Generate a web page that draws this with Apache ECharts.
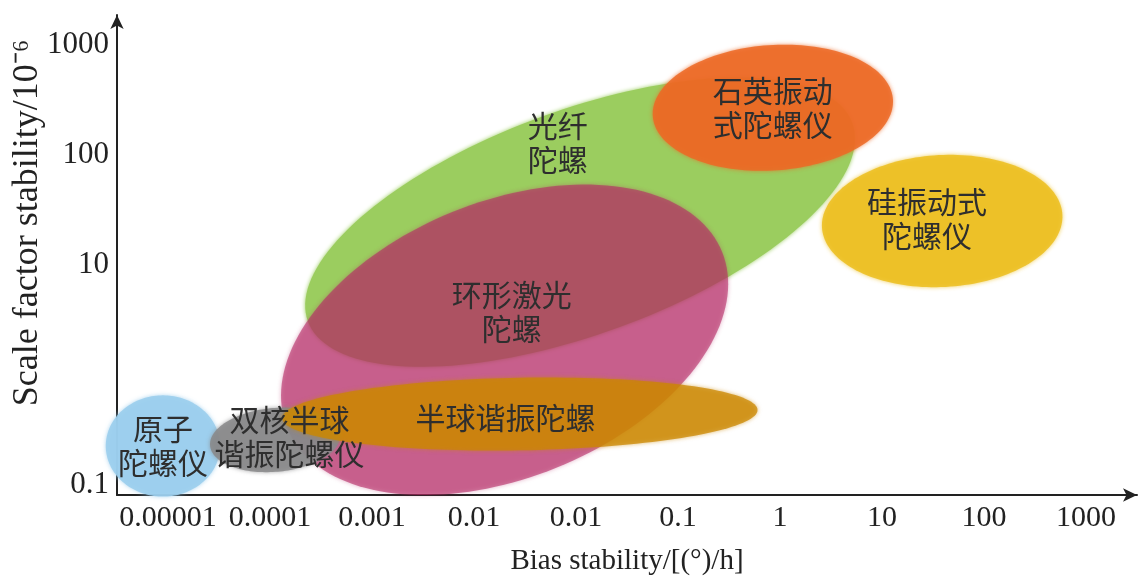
<!DOCTYPE html>
<html>
<head>
<meta charset="utf-8">
<script src="https://cdn.jsdelivr.net/npm/echarts@6/dist/echarts.min.js"></script>
<style>
html,body{margin:0;padding:0;background:#fff;}
#chart{width:1140px;height:577px;}
</style>
</head>
<body>
<div id="chart"></div>
<script>
// ---- data ----
const xCategories = ['0.00001', '0.0001', '0.001', '0.01', '0.01', '0.1', '1', '10', '100', '1000'];
const yTickLabels = ['0.1', '', '10', '100', '1000']; // labels for 10^-1 .. 10^3
const xAxisTitle = 'Bias stability/[(°)/h]';
const yAxisTitle = 'Scale factor stability/10⁻⁶';

// gyroscope regions, in drawing order
const gyroNames   = ['光纤\n陀螺', '环形激光\n陀螺', '原子\n陀螺仪', '双核半球\n谐振陀螺仪', '半球谐振陀螺', '石英振动\n式陀螺仪', '硅振动式\n陀螺仪'];
const centerBias  = [4.54, 3.80, 0.45, 1.55, 3.95, 6.43, 8.09];   // position along bias axis (category units)
const centerScale = [1.39, 0.32, -0.645, -0.59, -0.355, 2.43, 1.40]; // log10 of scale factor stability
const spanBias    = [2.84, 2.30, 0.56, 0.64, 2.33, 1.18, 1.18];   // semi-axis along bias (category units)
const spanScale   = [1.02, 1.255, 0.46, 0.29, 0.33, 0.57, 0.60];  // semi-axis along scale (decades)
const tiltDeg     = [20, 22, 0, 5, 1, 4, 3];
const labelBias   = [4.32, 3.87, 0.45, 1.69, 3.81, 6.43, 7.94];
const labelScale  = [2.11, 0.58, -0.64, -0.56, -0.39, 2.43, 1.42];
const fillColors  = ['rgba(155,205,95,1)', 'rgba(180,40,100,0.6)', 'rgba(155,206,237,0.9)', 'rgba(136,136,138,0.85)',
                     'rgba(203,135,0,0.75)', 'rgba(236,104,36,0.85)', 'rgba(236,190,30,0.85)'];

// ---- chart ----
const yMin = 0.0811, yMax = 1875;
const chart = echarts.init(document.getElementById('chart'), null, {renderer: 'canvas'});

const regionData = gyroNames.map((n, i) => [centerBias[i], Math.pow(10, centerScale[i]), spanBias[i], spanScale[i], tiltDeg[i], i]);
const labelData = gyroNames.map((n, i) => [labelBias[i], Math.pow(10, labelScale[i]), i]);

const axisFont = 'Liberation Serif';

chart.setOption({
  backgroundColor: '#ffffff',
  animation: false,
  grid: {left: 117, right: 3, top: 15, bottom: 82, containLabel: false, outerBoundsMode: 'none'},
  xAxis: [
    {
      type: 'category', data: xCategories, boundaryGap: true,
      axisLine: {show: true, symbol: ['none', 'arrow'], symbolSize: [10, 14], lineStyle: {color: '#222', width: 2}},
      axisTick: {show: false}, splitLine: {show: false},
      axisLabel: {color: '#222', fontFamily: axisFont, fontSize: 30, margin: 8, interval: 0},
      name: xAxisTitle, nameLocation: 'middle', nameGap: 52,
      nameTextStyle: {color: '#222', fontFamily: axisFont, fontSize: 29}
    },
    {type: 'value', min: 0, max: 10, show: false}
  ],
  yAxis: {
    type: 'log', logBase: 10, min: yMin, max: yMax,
    axisLine: {show: true, symbol: ['none', 'arrow'], symbolSize: [10, 14], lineStyle: {color: '#222', width: 2}},
    axisTick: {show: false}, splitLine: {show: false}, minorTick: {show: false},
    axisLabel: {
      color: '#222', fontFamily: axisFont, fontSize: 31, margin: 8,
      showMinLabel: false, showMaxLabel: false,
      formatter: function (v) {
        const idx = Math.round(Math.log10(v)) + 1;
        if (Math.abs(Math.log10(v) - Math.round(Math.log10(v))) > 1e-6) return '';
        return yTickLabels[idx] !== undefined ? yTickLabels[idx] : '';
      }
    },
    name: yAxisTitle, nameLocation: 'middle', nameGap: 71, nameRotate: 90, nameMoveOverlap: false,
    nameTextStyle: {color: '#222', fontFamily: axisFont, fontSize: 36, padding: [0, 0, 0, 64]}
  },
  series: [
    {
      type: 'custom', xAxisIndex: 1, yAxisIndex: 0, z: 5,
      data: regionData,
      encode: {x: 0, y: 1},
      renderItem: function (params, api) {
        const cb = api.value(0), cs = api.value(1), rb = api.value(2), rs = api.value(3);
        const th = api.value(4) * Math.PI / 180;
        const idx = api.value(5);
        const c = api.coord([cb, cs]);
        const a = api.coord([cb + rb, cs])[0] - c[0];
        const b = c[1] - api.coord([cb, cs * Math.pow(10, rs)])[1];
        const pts = [];
        const N = 160;
        for (let k = 0; k < N; k++) {
          const t = 2 * Math.PI * k / N;
          pts.push([
            c[0] + a * Math.cos(t) * Math.cos(th) + b * Math.sin(t) * Math.sin(th),
            c[1] - a * Math.cos(t) * Math.sin(th) + b * Math.sin(t) * Math.cos(th)
          ]);
        }
        return {
          type: 'polygon', shape: {points: pts},
          style: {fill: fillColors[idx], shadowBlur: 4, shadowColor: fillColors[idx]}
        };
      }
    },
    {
      type: 'custom', xAxisIndex: 1, yAxisIndex: 0, z: 10,
      data: labelData,
      encode: {x: 0, y: 1},
      renderItem: function (params, api) {
        const p = api.coord([api.value(0), api.value(1)]);
        const idx = api.value(2);
        return {
          type: 'text', x: p[0], y: p[1],
          style: {
            text: gyroNames[idx], fill: '#2e2e2e', fontSize: 30, lineHeight: 34,
            fontFamily: 'Noto Sans CJK SC', align: 'center', verticalAlign: 'middle'
          }
        };
      }
    }
  ]
});
</script>
</body>
</html>
